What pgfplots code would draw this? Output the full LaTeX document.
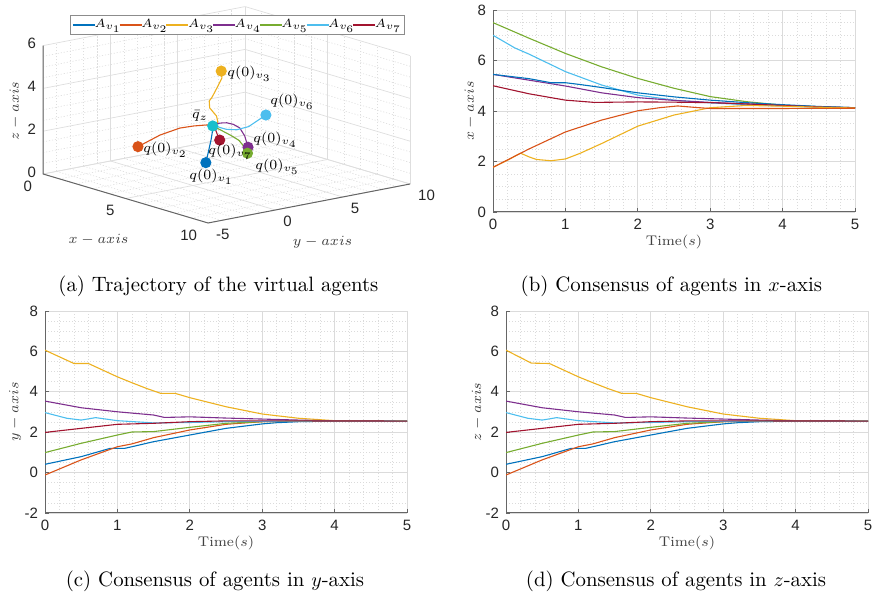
\documentclass[border=0pt]{standalone}
\usepackage{pgfplots}
\pgfplotsset{compat=1.18}
\usepackage{fontspec}
\newfontfamily\tickfont{Liberation Sans}
\DeclareMathSizes{7}{7}{4.9}{3.5}
\DeclareMathSizes{6.5}{6.5}{4.55}{3.25}
\DeclareMathSizes{7.5}{7.5}{5.25}{3.75}

\definecolor{c1}{rgb}{0,0.447,0.741}
\definecolor{c2}{rgb}{0.85,0.325,0.098}
\definecolor{c3}{rgb}{0.929,0.694,0.125}
\definecolor{c4}{rgb}{0.494,0.184,0.556}
\definecolor{c5}{rgb}{0.466,0.674,0.188}
\definecolor{c6}{rgb}{0.301,0.745,0.933}
\definecolor{c7}{rgb}{0.635,0.078,0.184}
\definecolor{cq}{rgb}{0.1,0.75,0.8}

\pgfplotsset{
  matlab2d/.style={
    scale only axis, width=181pt, height=101pt,
    xmin=0, xmax=5, xtick={0,1,2,3,4,5}, xticklabels={0,1,2,3,4,5},
    minor x tick num=4, minor y tick num=3,
    grid=both,
    major grid style={draw=black!14, line width=0.4pt},
    minor grid style={draw=black!14, dash pattern=on 0.6pt off 0.9pt, line width=0.3pt},
    axis x line*=bottom, axis y line*=left,
    axis line style={draw=black!60, line width=0.5pt, -},
    major tick length=2pt, minor tick length=0pt,
    tick align=inside,
    tick style={draw=black!60, line width=0.4pt},
    ticklabel style={font=\tickfont\fontsize{7.5}{9}\selectfont, text=black!85},
    label style={font=\fontsize{7}{8}\selectfont, text=black!75},
    xlabel={Time$(s)$},
    xlabel style={at={([yshift=-15pt]axis description cs:0.5,0)}, anchor=center},
    every axis plot/.append style={line width=0.55pt},
  },
}

\begin{document}
\begin{tikzpicture}
\useasboundingbox (0,0) rectangle (436pt,301.5pt);

% ---------------- (a) 3D trajectories ----------------
\begin{axis}[
  at={(55.2pt,221pt)}, anchor=origin,
  x={(8.25pt,-2.45pt)}, y={(6.735pt,1.3pt)}, z={(0pt,10.7pt)},
  xmin=0, xmax=10, ymin=-5, ymax=10, zmin=0, zmax=6,
  xtick={0,5,10}, ytick={-5,0,5,10}, ztick={0,2,4,6},
  xticklabels={0,5,10}, yticklabels={-5,0,5,10}, zticklabels={0,2,4,6},
  minor x tick num=4, minor y tick num=4, minor z tick num=3,
  grid=both,
  major grid style={draw=black!13, line width=0.35pt},
  minor grid style={draw=black!13, dash pattern=on 0.6pt off 0.9pt, line width=0.3pt},
  axis line style={draw=none},
  major tick length=0pt, minor tick length=0pt,
  ticklabel style={font=\tickfont\fontsize{7.5}{9}\selectfont, text=black!85},
  xticklabel style={anchor=east, xshift=-2pt, yshift=-6pt},
  yticklabel style={anchor=west, xshift=0.5pt, yshift=-5.5pt},
  zticklabel style={yshift=0.8pt},
  clip=false,
  every axis plot/.append style={line width=0.55pt},
]
\addplot3[c1] coordinates {(5.45,0.41,1.12) (5.28,0.79,1.49) (5.12,1.2,2.01) (4.93,1.53,2.3) (4.72,1.86,2.4) (4.43,2.41,2.36) (4.12,2.55,2.27)};
\addplot3[c2] coordinates {(1.77,-0.12,1.09) (2.5,0.63,1.71) (3.17,1.28,2.11) (3.64,1.73,2.26) (4.01,2.11,2.34) (4.1,2.52,2.32) (4.12,2.55,2.27)};
\addplot3[c3] coordinates {(1.77,6.06,3.87) (2.35,5.4,3.76) (2.08,5.4,3.28) (2.03,5.07,2.84) (2.12,4.74,2.71) (2.71,4.05,2.61) (3.4,3.71,2.43) (3.84,3.26,2.35) (4.13,2.9,2.33) (4.12,2.55,2.27)};
\addplot3[c4] coordinates {(5.45,3.54,1.46) (5.36,3.41,1.98) (5.22,3.21,2.35) (4.99,3.01,2.49) (4.72,2.85,2.52) (4.53,2.76,2.48) (4.34,2.65,2.43) (4.12,2.55,2.27)};
\addplot3[c5] coordinates {(7.5,0.99,1.96) (6.88,1.45,2.1) (6.28,1.86,2.17) (5.75,2.03,2.22) (5.29,2.24,2.21) (4.57,2.52,2.21) (4.12,2.55,2.27)};
\addplot3[c6] coordinates {(7.0,2.97,3.39) (6.25,2.6,2.72) (5.56,2.57,2.42) (5.03,2.46,2.33) (4.63,2.48,2.32) (4.32,2.54,2.32) (4.12,2.55,2.27)};
\addplot3[c7] coordinates {(5.0,1.99,1.88) (4.68,2.19,2.07) (4.43,2.39,2.17) (4.34,2.44,2.24) (4.36,2.52,2.28) (4.33,2.56,2.32) (4.12,2.55,2.27)};
\addplot3[only marks, mark=*, mark size=2.5pt, c1] coordinates {(5.45,0.41,1.12)};
\addplot3[only marks, mark=*, mark size=2.5pt, c2] coordinates {(1.77,-0.12,1.09)};
\addplot3[only marks, mark=*, mark size=2.5pt, c3] coordinates {(1.77,6.06,3.87)};
\addplot3[only marks, mark=*, mark size=2.5pt, c4] coordinates {(5.45,3.54,1.46)};
\addplot3[only marks, mark=*, mark size=2.5pt, c5] coordinates {(7.5,0.99,1.96)};
\addplot3[only marks, mark=*, mark size=2.5pt, c6] coordinates {(7.0,2.97,3.39)};
\addplot3[only marks, mark=*, mark size=2.5pt, c7] coordinates {(5.0,1.99,1.88)};
\addplot3[only marks, mark=*, mark size=2.5pt, cq] coordinates {(4.12,2.55,2.27)};
\draw[black!60, line width=0.5pt] (axis cs:0,-5,6) -- (axis cs:0,-5,0) -- (axis cs:10,-5,0) -- (axis cs:10,10,0);
\end{axis}

% point labels
\begin{scope}[every node/.style={font=\fontsize{7.5}{9}\selectfont, inner sep=0pt}]
\node[anchor=west] at (113.5pt,264.4pt) {$q(0)_{v_3}$};
\node[anchor=west] at (135pt,250.6pt) {$q(0)_{v_6}$};
\node[anchor=center] at (100pt,243.5pt) {$\bar{q}_z$};
\node[anchor=west] at (126.5pt,231.5pt) {$q(0)_{v_4}$};
\node[anchor=west] at (71.5pt,226.5pt) {$q(0)_{v_2}$};
\node[anchor=west] at (104pt,225.6pt) {$q(0)_{v_7}$};
\node[anchor=west] at (127.5pt,218.1pt) {$q(0)_{v_5}$};
\node[anchor=west] at (94.5pt,213.1pt) {$q(0)_{v_1}$};
\end{scope}
\begin{scope}[every node/.style={font=\fontsize{7}{8}\selectfont, text=black!75}]
\node at (49.3pt,181.5pt) {$x-axis$};
\node at (161.3pt,180.6pt) {$y-axis$};
\node[rotate=90] at (7.5pt,246pt) {$z-axis$};
\end{scope}

% legend host
\begin{axis}[hide axis, scale only axis, width=10pt, height=10pt,
  at={(118.75pt,289pt)}, anchor=center, xmin=0, xmax=1, ymin=0, ymax=1,
  legend columns=7,
  legend style={at={(0.5,0.5)}, anchor=center, draw=black!45, line width=0.4pt,
    fill=white, inner xsep=1pt, inner ysep=1.5pt,
    nodes={inner sep=0.3pt},
    font=\fontsize{6.5}{7.5}\selectfont,
    /tikz/every odd column/.append style={column sep=-0.8pt},
    /tikz/every even column/.append style={column sep=-1.6pt}},
  legend image code/.code={\draw[#1, line width=0.6pt] (0pt,0pt) -- (11pt,0pt);},
]
\addlegendimage{c1}\addlegendentry{$A_{v_1}$}
\addlegendimage{c2}\addlegendentry{$A_{v_2}$}
\addlegendimage{c3}\addlegendentry{$A_{v_3}$}
\addlegendimage{c4}\addlegendentry{$A_{v_4}$}
\addlegendimage{c5}\addlegendentry{$A_{v_5}$}
\addlegendimage{c6}\addlegendentry{$A_{v_6}$}
\addlegendimage{c7}\addlegendentry{$A_{v_7}$}
\end{axis}

% ---------------- (b) x-axis consensus ----------------
\begin{axis}[matlab2d, at={(246.5pt,195.5pt)}, anchor=south west,
  ymin=0, ymax=8, ytick={0,2,4,6,8}, yticklabels={0,2,4,6,8},
  ylabel={$x-axis$},
  ylabel style={at={([xshift=-11.5pt]axis description cs:0,0.5)}, anchor=center}]
\addplot[c5] coordinates {(0,7.5)(0.5,6.88)(1,6.28)(1.5,5.75)(2,5.29)(2.5,4.9)(3,4.57)(3.5,4.37)(4,4.23)(4.5,4.17)(5,4.13)};
\addplot[c6] coordinates {(0,7.0)(0.3,6.5)(0.5,6.25)(1,5.56)(1.5,5.03)(2,4.63)(2.5,4.43)(3,4.32)(3.5,4.25)(4,4.2)(4.5,4.15)(5,4.12)};
\addplot[c4] coordinates {(0,5.45)(0.5,5.22)(1,4.99)(1.5,4.72)(2,4.53)(2.5,4.42)(3,4.34)(3.5,4.28)(4,4.22)(4.5,4.17)(5,4.13)};
\addplot[c1] coordinates {(0,5.45)(0.5,5.28)(0.8,5.12)(1.0,5.12)(1.2,5.05)(1.5,4.93)(2,4.72)(2.5,4.56)(3,4.43)(3.5,4.33)(4,4.25)(4.5,4.18)(5,4.13)};
\addplot[c7] coordinates {(0,5.0)(0.5,4.68)(1,4.43)(1.4,4.34)(2,4.36)(2.5,4.35)(3,4.33)(3.5,4.28)(4,4.22)(4.5,4.16)(5,4.12)};
\addplot[c3] coordinates {(0,1.77)(0.2,2.05)(0.38,2.33)(0.5,2.18)(0.6,2.08)(0.8,2.03)(1.0,2.1)(1.2,2.32)(1.5,2.71)(2,3.4)(2.5,3.84)(3,4.13)(3.5,4.22)(4,4.19)(4.5,4.15)(5,4.12)};
\addplot[c2] coordinates {(0,1.77)(0.5,2.5)(1,3.17)(1.5,3.64)(2,4.01)(2.3,4.13)(2.55,4.2)(2.8,4.14)(3,4.1)(4,4.1)(5,4.11)};
\end{axis}

% ---------------- (c) y-axis consensus ----------------
\begin{axis}[matlab2d, at={(22.5pt,45pt)}, anchor=south west,
  ymin=-2, ymax=8, ytick={-2,0,2,4,6,8}, yticklabels={-2,0,2,4,6,8},
  ylabel={$y-axis$},
  ylabel style={at={([xshift=-15pt]axis description cs:0,0.5)}, anchor=center}]
\addplot[c1] coordinates {(0,0.41)(0.5,0.79)(0.9,1.2)(1.1,1.2)(1.2,1.28)(1.5,1.53)(2,1.86)(2.5,2.19)(3,2.41)(3.2,2.47)(3.5,2.52)(4,2.55)(5,2.55)};
\addplot[c2] coordinates {(0,-0.12)(0.5,0.63)(1,1.28)(1.2,1.42)(1.5,1.73)(2,2.11)(2.5,2.39)(3,2.52)(3.5,2.55)(5,2.55)};
\addplot[c3] coordinates {(0,6.06)(0.4,5.4)(0.6,5.4)(0.8,5.07)(1,4.74)(1.2,4.45)(1.4,4.17)(1.6,3.92)(1.8,3.92)(2,3.71)(2.5,3.26)(3,2.9)(3.5,2.69)(4,2.57)(5,2.55)};
\addplot[c4] coordinates {(0,3.54)(0.5,3.21)(1,3.01)(1.5,2.85)(1.65,2.73)(2,2.76)(2.5,2.7)(3,2.65)(3.5,2.6)(4,2.56)(5,2.55)};
\addplot[c5] coordinates {(0,0.99)(0.5,1.45)(1,1.86)(1.2,2.01)(1.5,2.03)(2,2.24)(2.5,2.44)(3,2.52)(3.5,2.55)(5,2.55)};
\addplot[c6] coordinates {(0,2.97)(0.3,2.69)(0.5,2.6)(0.7,2.72)(1,2.57)(1.5,2.46)(2,2.48)(2.5,2.52)(3,2.54)(3.5,2.55)(5,2.55)};
\addplot[c7] coordinates {(0,1.99)(0.5,2.19)(1,2.39)(1.5,2.44)(2,2.52)(2.5,2.56)(3,2.56)(5,2.55)};
\end{axis}

% ---------------- (d) z-axis consensus ----------------
\begin{axis}[matlab2d, at={(253pt,45pt)}, anchor=south west,
  ymin=-2, ymax=8, ytick={-2,0,2,4,6,8}, yticklabels={-2,0,2,4,6,8},
  ylabel={$z-axis$},
  ylabel style={at={([xshift=-14.3pt]axis description cs:0,0.5)}, anchor=center}]
\addplot[c1] coordinates {(0,0.41)(0.5,0.79)(0.9,1.2)(1.1,1.2)(1.2,1.28)(1.5,1.53)(2,1.86)(2.5,2.19)(3,2.41)(3.2,2.47)(3.5,2.52)(4,2.55)(5,2.55)};
\addplot[c2] coordinates {(0,-0.12)(0.5,0.63)(1,1.28)(1.2,1.42)(1.5,1.73)(2,2.11)(2.5,2.39)(3,2.52)(3.5,2.55)(5,2.55)};
\addplot[c3] coordinates {(0,6.06)(0.35,5.42)(0.6,5.4)(0.8,5.07)(1,4.74)(1.2,4.45)(1.4,4.17)(1.6,3.92)(1.8,3.92)(2,3.71)(2.5,3.26)(3,2.9)(3.5,2.69)(4,2.57)(5,2.55)};
\addplot[c4] coordinates {(0,3.54)(0.5,3.21)(1,3.01)(1.5,2.85)(1.65,2.73)(2,2.76)(2.5,2.7)(3,2.65)(3.5,2.6)(4,2.56)(5,2.55)};
\addplot[c5] coordinates {(0,0.99)(0.5,1.45)(1,1.86)(1.2,2.01)(1.5,2.03)(2,2.24)(2.5,2.44)(3,2.52)(3.5,2.55)(5,2.55)};
\addplot[c6] coordinates {(0,2.97)(0.3,2.69)(0.5,2.6)(0.7,2.72)(1,2.57)(1.5,2.46)(2,2.48)(2.5,2.52)(3,2.54)(3.5,2.55)(5,2.55)};
\addplot[c7] coordinates {(0,1.99)(0.5,2.19)(1,2.39)(1.5,2.44)(2,2.52)(2.5,2.56)(3,2.56)(5,2.55)};
\end{axis}

% ---------------- captions ----------------
\begin{scope}[every node/.style={font=\fontsize{10.4}{12}\selectfont, anchor=base}]
\node at (109.2pt,155.5pt) {(a) Trajectory of the virtual agents};
\node at (335.7pt,155.5pt) {(b) Consensus of agents in $x$-axis};
\node at (107.5pt,8pt) {(c) Consensus of agents in $y$-axis};
\node at (338pt,8pt) {(d) Consensus of agents in $z$-axis};
\end{scope}
\end{tikzpicture}
\end{document}
